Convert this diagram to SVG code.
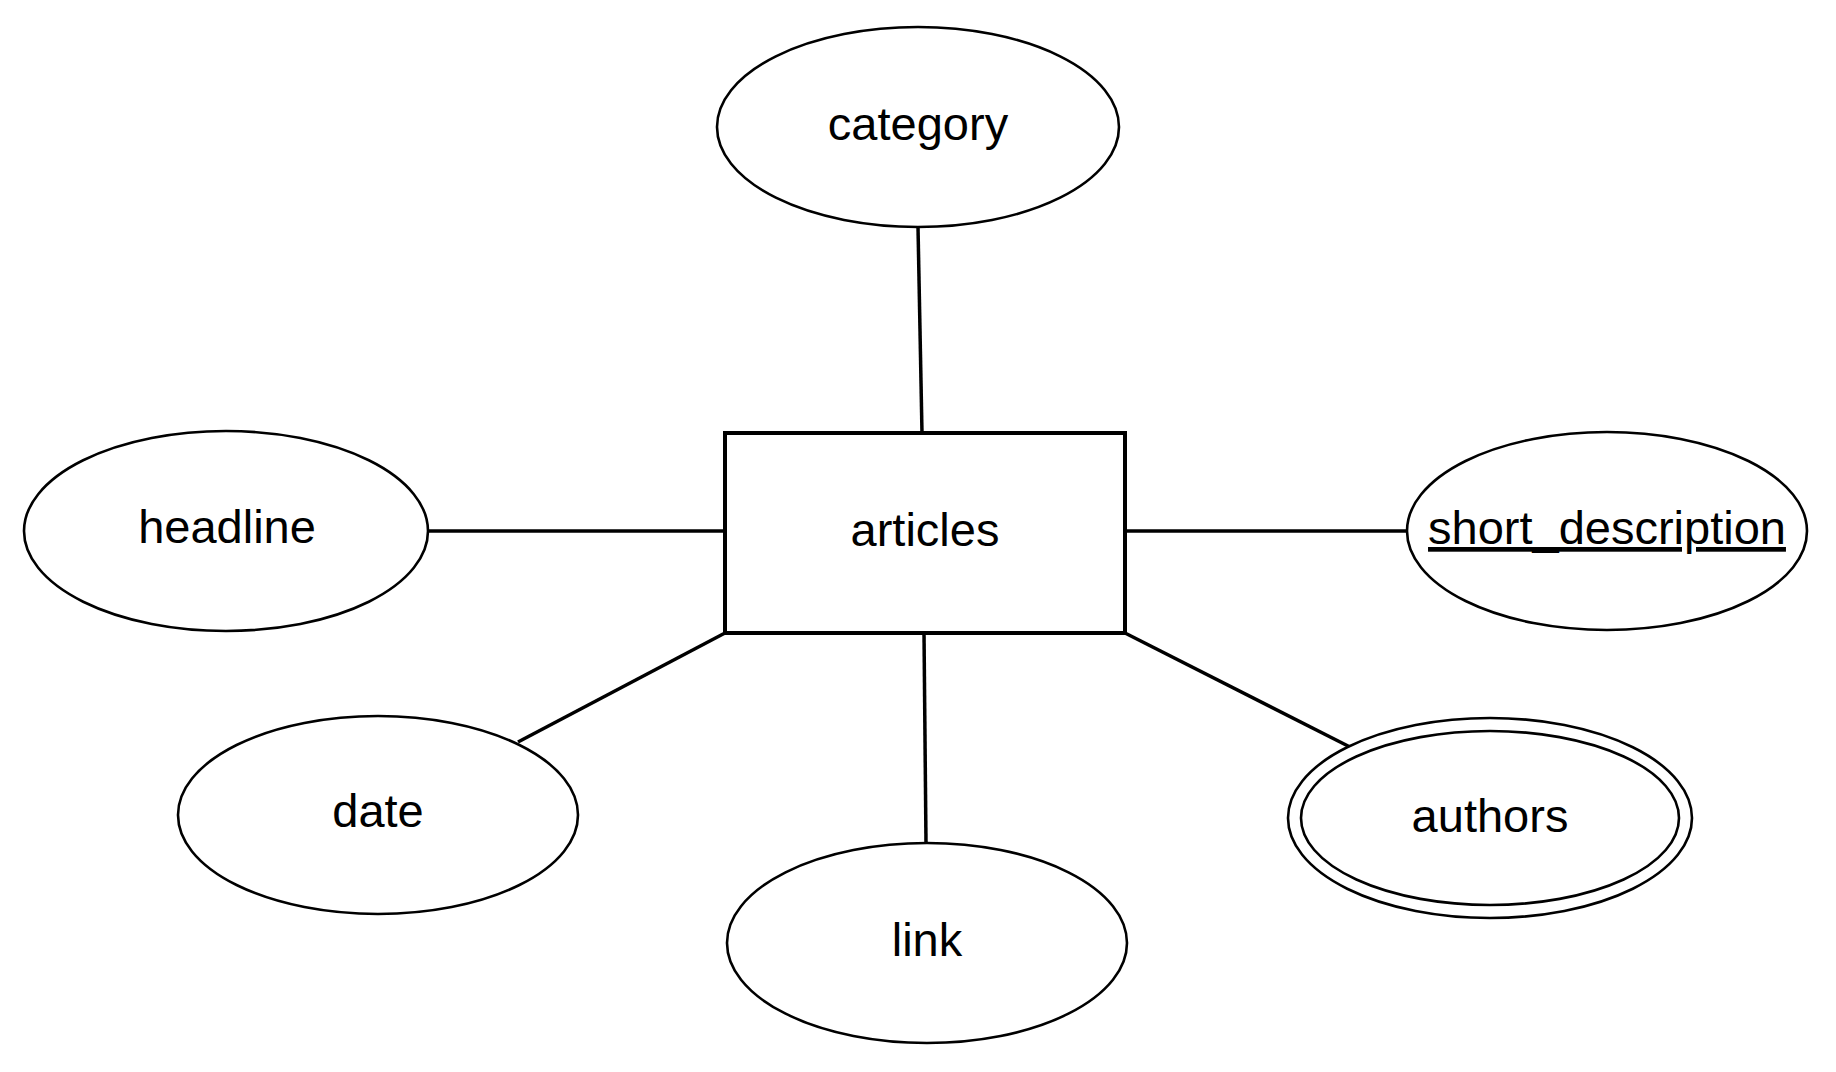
<svg xmlns="http://www.w3.org/2000/svg" width="1836" height="1072" viewBox="0 0 1836 1072">
<style>
.attr{fill:#fff;stroke:#000;stroke-width:2.6}
.ent{fill:#fff;stroke:#000;stroke-width:4}
.conn line{stroke:#000;stroke-width:3.5}
text{font-family:"Liberation Sans",Arial,sans-serif;font-size:47px;fill:#000;text-anchor:middle}
</style>
<rect width="1836" height="1072" fill="#fff"/>
<g id="connectors" class="conn">
<line x1="918" y1="227" x2="922" y2="433"/>
<line x1="428" y1="531" x2="725" y2="531"/>
<line x1="1125" y1="531" x2="1407" y2="531"/>
<line x1="725" y1="633" x2="518" y2="742"/>
<line x1="924" y1="633" x2="926" y2="843"/>
<line x1="1125" y1="633" x2="1350" y2="747"/>
</g>
<g id="category"><ellipse class="attr" cx="918" cy="127" rx="201" ry="100"/><text x="918" y="140">category</text></g>
<g id="articles"><rect class="ent" x="725" y="433" width="400" height="200"/><text x="925" y="546">articles</text></g>
<g id="headline"><ellipse class="attr" cx="226" cy="531" rx="202" ry="100"/><text x="227" y="543">headline</text></g>
<g id="short_description"><ellipse class="attr" cx="1607" cy="531" rx="200" ry="99"/><text x="1607" y="544" text-decoration="underline">short_description</text></g>
<g id="date"><ellipse class="attr" cx="378" cy="815" rx="200" ry="99"/><text x="378" y="827">date</text></g>
<g id="link"><ellipse class="attr" cx="927" cy="943" rx="200" ry="100"/><text x="927" y="956">link</text></g>
<g id="authors"><ellipse class="attr" cx="1490" cy="818" rx="202" ry="100"/><ellipse class="attr" cx="1490" cy="818" rx="189" ry="87"/><text x="1490" y="832">authors</text></g>
</svg>
